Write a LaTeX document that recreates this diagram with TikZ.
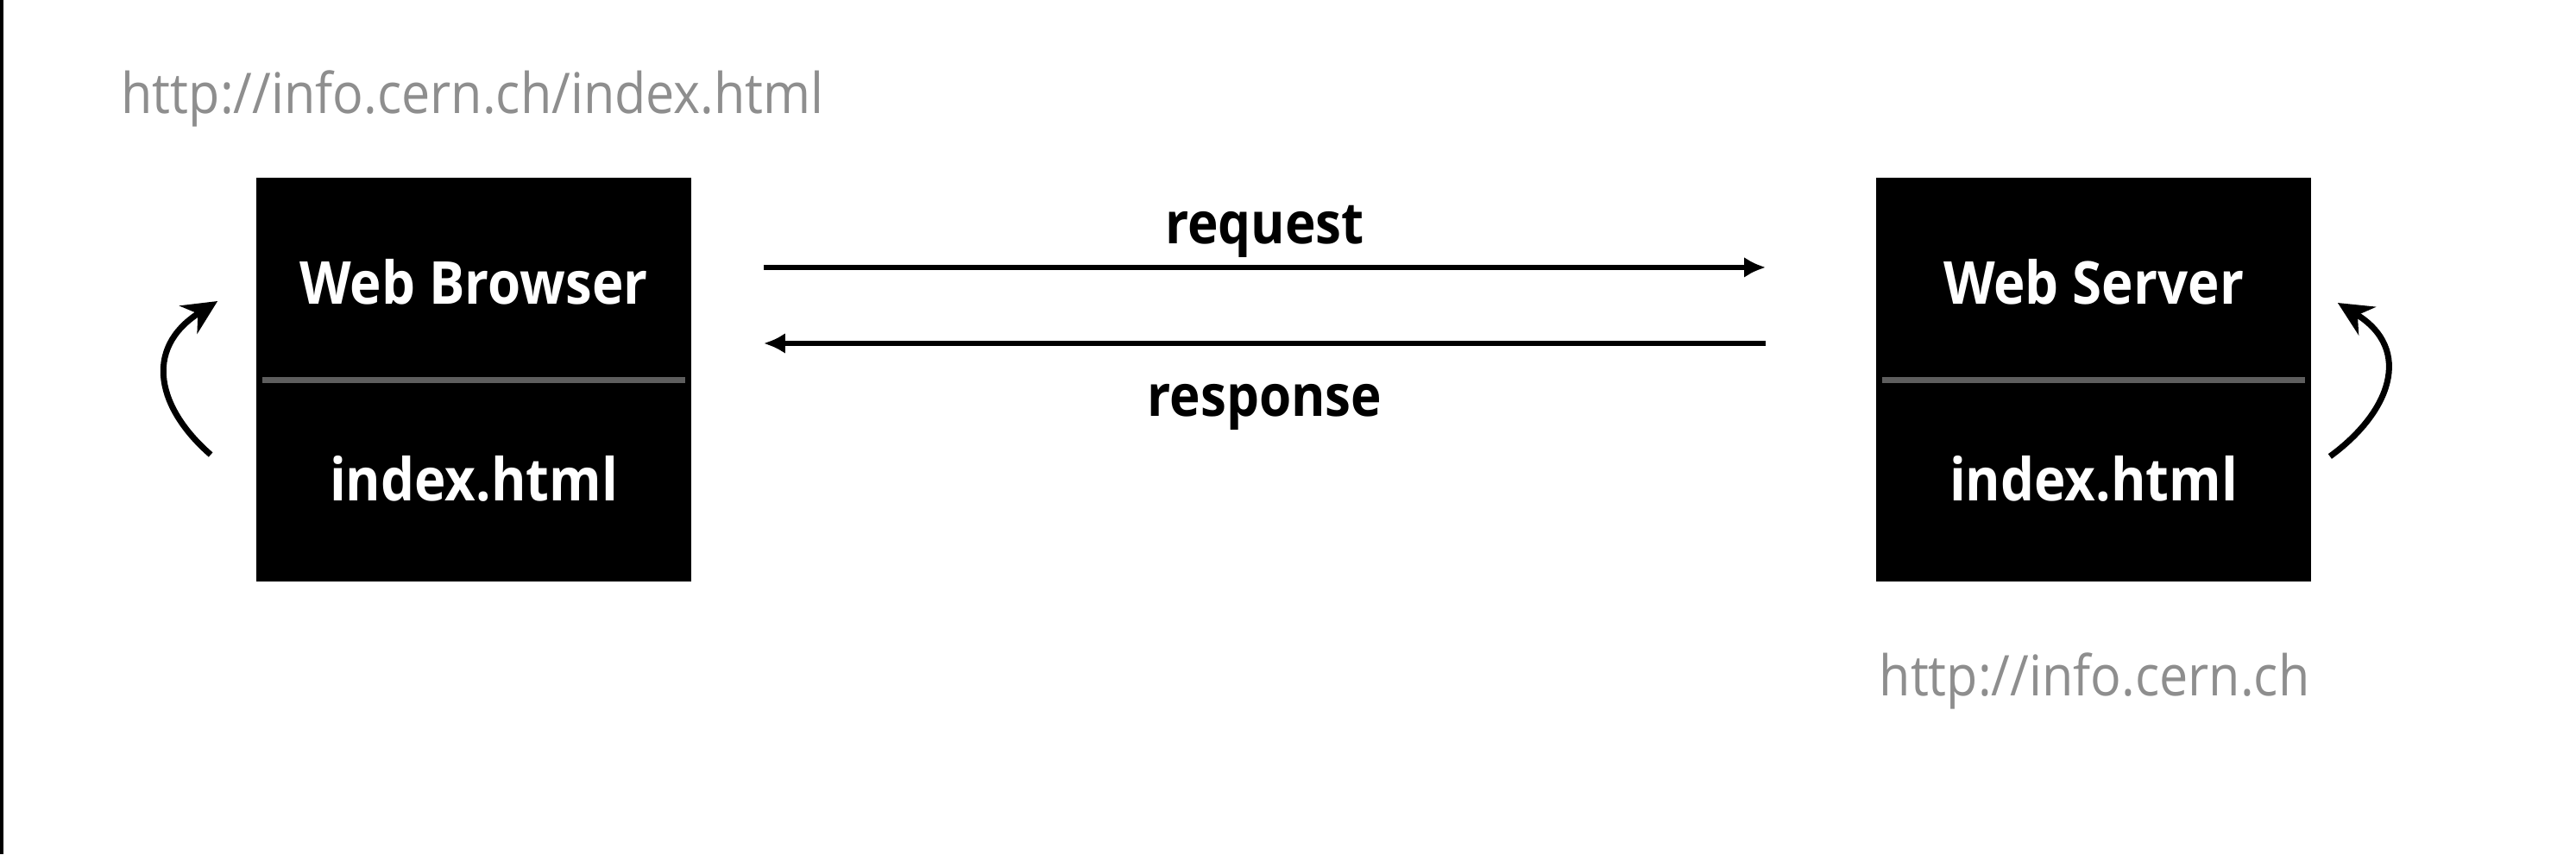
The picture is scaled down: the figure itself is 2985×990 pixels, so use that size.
\documentclass[tikz,border=0pt]{standalone}
\usepackage{fontspec}
\setmainfont{Open Sans}
\usetikzlibrary{positioning,arrows.meta,calc}
\definecolor{urlgray}{HTML}{8E8E8E}
\definecolor{rulegray}{HTML}{5E5E5E}

\begin{document}
\begin{tikzpicture}[x=0.01cm, y=0.01cm,
    box/.style={fill=black, minimum width=5.04cm, minimum height=4.68cm, inner sep=0pt},
    boxlabel/.style={white, font=\fontsize{19.5}{22}\selectfont\bfseries, anchor=base, inner sep=0pt, xscale=0.9},
    msglabel/.style={black, font=\fontsize{19}{22}\selectfont\bfseries, anchor=base, inner sep=0pt, xscale=0.9},
    url/.style={urlgray, font=\fontsize{18.5}{22}\selectfont, inner sep=0pt, xscale=0.91},
    msg/.style={-{Latex[length=0.25cm, width=0.24cm]}, line width=0.06cm},
    reload/.style={-{Stealth[length=0.4cm, width=0.38cm]}, line width=0.07cm}]
    \useasboundingbox (0,0) rectangle (2985,990);

    % Frame edge
    \fill[black] (0,0) rectangle (4,990);

    % Boxes
    \foreach \name/\x/\title in {browser/549/Web Browser, server/2426/Web Server} {
        \node[box] (\name) at (\x,550) {};
        \draw[rulegray, line width=0.07cm] ($(\name.west)+(8,0)$) -- ($(\name.east)+(-8,0)$);
        \node[boxlabel] (\name-title) at (\x,638) {\title};
        \node[boxlabel] (\name-file) at (\x,410) {index.html};
    }

    % Request / response
    \draw[msg] ([xshift=0.83cm, yshift=1.3cm]browser.east) -- ([xshift=-1.27cm, yshift=1.3cm]server.west)
        node[msglabel, midway, yshift=0.27cm] (request) {request};
    \draw[msg] ([xshift=-1.27cm, yshift=0.42cm]server.west) -- ([xshift=0.83cm, yshift=0.42cm]browser.east)
        node[msglabel, midway, yshift=-0.84cm] (response) {response};

    % Reload arrows
    \draw[reload] ($(browser.west)+(-52,-87)$) .. controls ($(browser.west)+(-112,-35)$)
        and ($(browser.west)+(-132,35)$) .. ($(browser.west)+(-44,91)$);
    \draw[reload] ($(server.east)+(21,-89)$) .. controls ($(server.east)+(91,-38)$)
        and ($(server.east)+(118,35)$) .. ($(server.east)+(30,89)$);

    % URLs
    \node[url, anchor=base west] (pageurl) at (140,858) {http://info.cern.ch/index.html};
    \node[url, anchor=base] (hosturl) at (2427,184) {http://info.cern.ch};
\end{tikzpicture}
\end{document}
